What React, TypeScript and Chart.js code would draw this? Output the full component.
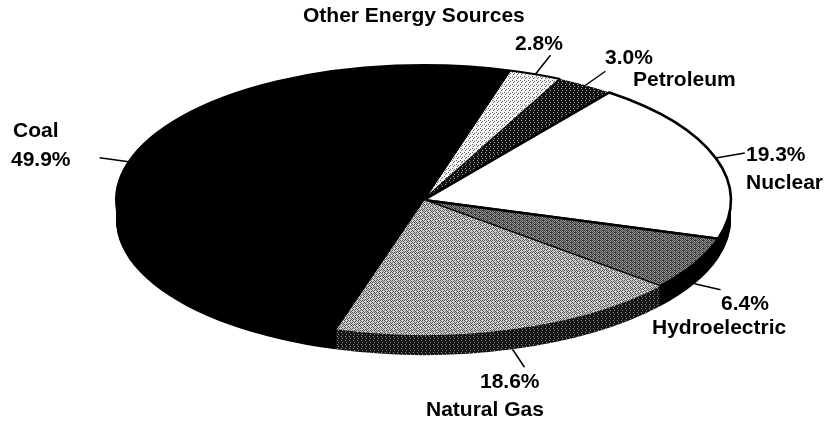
import React, { useEffect, useRef } from "react";
import { Chart, ArcElement, PieController } from "chart.js";

Chart.register(ArcElement, PieController);

// Data, clockwise from the rotation start
const categories = ["Other Energy Sources", "Petroleum", "Nuclear", "Hydroelectric", "Natural Gas", "Coal"];
const shares = [2.8, 3.0, 19.3, 6.4, 18.6, 49.9];

// Layout (kept apart from the data)
const ROTATION = 16.3;
const RADIUS_X = 307.5;
const SQUASH = 135 / 307.5;
const DEPTH = 20;
const FONT = "bold 21px 'Liberation Sans', Arial, sans-serif";
// leader end relative to the outer-edge start, per slice
const leaderEnds = [[15, -19], [20, -14], [29, -5], [26, 6], [12, 18], [-29, -4]];
// value label [x, baseline], name label [x, baseline]
const valuePos = [[515, 50], [605, 64], [746, 161], [721, 310], [480, 388], [11, 166]];
const namePos = [[303, 22], [633, 86], [746, 189], [652, 334], [426, 416], [13, 137]];

const TILES: Record<string, { rows: string[]; dark: string; light: string }> = {
  other: { rows: ["#...", "..#.", ".#..", "...."], dark: "#666", light: "#f2f2f2" },
  petroleum: { rows: ["#.##", "####", "##.#", "####"], dark: "#111", light: "#a8a8a8" },
  hydro: { rows: ["#.#.#.##", ".#.#.#.#", "#.###.#.", ".#.#.#.#"], dark: "#3a3a3a", light: "#999" },
  gas: { rows: ["#.#.#.#.", ".#.#...#", "#...#.#.", ".#.#.#..", "#.#...#.", "...#.#.#"], dark: "#5a5a5a", light: "#cfcfcf" },
  gasSide: { rows: ["#.##", "####", "##.#", "####"], dark: "#151515", light: "#8a8a8a" },
};

function makeTile(name: string, ctx: CanvasRenderingContext2D) {
  const { rows, dark, light } = TILES[name];
  const c = document.createElement("canvas");
  c.width = rows[0].length;
  c.height = rows.length;
  const g = c.getContext("2d")!;
  rows.forEach((row, y) =>
    row.split("").forEach((ch, x) => {
      g.fillStyle = ch === "#" ? dark : light;
      g.fillRect(x, y, 1, 1);
    })
  );
  return ctx.createPattern(c, "repeat")!;
}

export default function App() {
  const ref = useRef<HTMLCanvasElement>(null);

  useEffect(() => {
    const canvas = ref.current!;
    const c2d = canvas.getContext("2d")!;
    const fills = [
      makeTile("other", c2d),
      makeTile("petroleum", c2d),
      "#ffffff",
      makeTile("hydro", c2d),
      makeTile("gas", c2d),
      "#000000",
    ];
    const sideFills = ["#000", "#000", "#000", "#000", makeTile("gasSide", c2d), "#000"];

    const squashToPlane = (ctx: any, el: any, drop: number) => {
      ctx.translate(el.x, el.y + drop);
      ctx.scale(1, SQUASH);
      ctx.translate(-el.x, -el.y);
    };

    const tilt = {
      id: "tilt",
      beforeDatasetsDraw(chart: any) {
        const ctx = chart.ctx;
        const arcs = chart.getDatasetMeta(0).data;
        // fill and stroke in page space so tiles and line widths stay undistorted
        const fill = ctx.fill;
        const stroke = ctx.stroke;
        ctx.fill = (...a: any[]) => {
          ctx.save();
          ctx.setTransform(1, 0, 0, 1, 0, 0);
          fill.apply(ctx, a);
          ctx.restore();
        };
        ctx.stroke = (...a: any[]) => {
          ctx.save();
          ctx.setTransform(1, 0, 0, 1, 0, 0);
          stroke.apply(ctx, a);
          ctx.restore();
        };
        for (let d = DEPTH; d >= 1; d--) {
          arcs.forEach((el: any, i: number) => {
            ctx.save();
            squashToPlane(ctx, el, d);
            const side = Object.create(el);
            side.options = { ...el.options, backgroundColor: sideFills[i], borderWidth: 0 };
            ArcElement.prototype.draw.call(side, ctx);
            ctx.restore();
          });
        }
        ctx.save();
        squashToPlane(ctx, arcs[0], 0);
      },
      afterDatasetsDraw(chart: any) {
        const ctx = chart.ctx;
        ctx.restore();
        delete ctx.fill;
        delete ctx.stroke;
        const arcs = chart.getDatasetMeta(0).data;
        ctx.save();
        ctx.strokeStyle = "#000";
        ctx.lineWidth = 1.5;
        ctx.fillStyle = "#000";
        ctx.font = FONT;
        ctx.textAlign = "left";
        ctx.textBaseline = "alphabetic";
        arcs.forEach((el: any, i: number) => {
          const mid = (el.startAngle + el.endAngle) / 2;
          const sx = el.x + el.outerRadius * Math.cos(mid);
          const sin = Math.sin(mid);
          const sy = el.y + el.outerRadius * SQUASH * sin + (sin > 0 ? DEPTH : 0);
          ctx.beginPath();
          ctx.moveTo(sx, sy);
          ctx.lineTo(sx + leaderEnds[i][0], sy + leaderEnds[i][1]);
          ctx.stroke();
          ctx.fillText(`${shares[i].toFixed(1)}%`, valuePos[i][0], valuePos[i][1]);
          ctx.fillText(categories[i], namePos[i][0], namePos[i][1]);
        });
        ctx.restore();
      },
    };

    const chart = new Chart(canvas, {
      type: "pie",
      data: {
        labels: categories,
        datasets: [
          {
            data: shares,
            backgroundColor: fills as any,
            borderColor: "#000000",
            borderWidth: [2, 0, 2.6, 2.6, 0, 2],
            radius: RADIUS_X,
            clip: false as any,
          } as any,
        ],
      },
      options: {
        responsive: false,
        animation: false,
        rotation: ROTATION,
        layout: { padding: { left: 21, bottom: 22 } },
        events: [],
        plugins: { legend: { display: false }, tooltip: { enabled: false } },
      } as any,
      plugins: [tilt],
    });
    return () => chart.destroy();
  }, []);

  return (
    <div style={{ position: "fixed", left: 0, top: 0, width: 826, height: 422, background: "#fff" }}>
      <canvas ref={ref} width={826} height={422} style={{ display: "block" }} />
    </div>
  );
}
